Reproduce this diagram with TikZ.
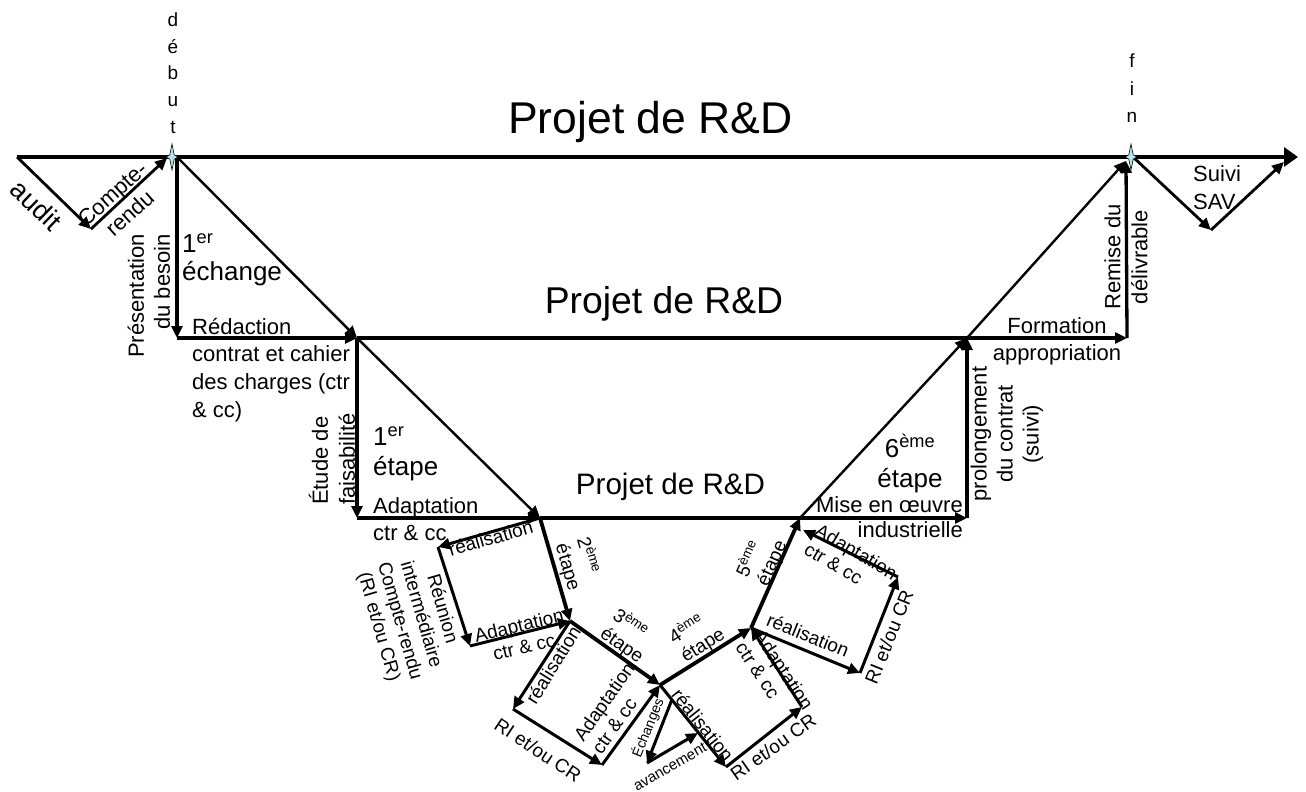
\documentclass[tikz,border=0pt]{standalone}
\usepackage{fontspec}
\setmainfont{Liberation Sans}
\usetikzlibrary{arrows.meta,calc}
\definecolor{starfill}{RGB}{178,228,232}
\newcommand\fsz[2]{\fontsize{#1}{#2}\selectfont}
\tikzset{
  mainln/.style={line width=3.3pt},
  diagln/.style={line width=2.4pt},
  sideln/.style={line width=2.8pt},
  loopln/.style={line width=3pt},
  stepln/.style={line width=3.8pt},
  tip/.style={-{Triangle[length=12pt,width=11pt]}},
  bigtip/.style={-{Triangle[length=14pt,width=19pt]}},
  lbl/.style={inner sep=0pt},
  lf/.style={inner sep=0pt,font=\fsz{19}{22}},
  mf/.style={inner sep=0pt,font=\fsz{22}{27}},
  sparkle/.pic={\filldraw[fill=starfill,draw=black,line width=0.6pt]
    (0,-13) -- (2.2,-2.2) -- (6,0) -- (2.2,2.2) -- (0,13) -- (-2.2,2.2) -- (-6,0) -- (-2.2,-2.2) -- cycle;}
}
\begin{document}
\begin{tikzpicture}[x=1pt,y=-1pt]
\useasboundingbox (0,0) rectangle (1306,792);
\fill[white] (0,0) rectangle (1306,792);
% coordinates
\coordinate (S0) at (17,157);
\coordinate (Deb) at (172,157);
\coordinate (DebV) at (177,157);
\coordinate (DebIn) at (167,158);
\coordinate (Au) at (91,229);
\coordinate (Fin) at (1131,157);
\coordinate (FinIn) at (1126,161);
\coordinate (FinOut) at (1133,157);
\coordinate (TopEnd) at (1298,157);
\coordinate (Sv) at (1211,230);
\coordinate (SvEnd) at (1284,162);
\coordinate (P1) at (177,338);
\coordinate (R1) at (357,338);
\coordinate (R2) at (967,338);
\coordinate (R3) at (1127,338);
\coordinate (Q1) at (357,518);
\coordinate (A) at (540,518);
\coordinate (M) at (800,518);
\coordinate (Q2) at (967,518);
\coordinate (B) at (438,547);
\coordinate (C) at (470,646);
\coordinate (D) at (570,621);
\coordinate (F) at (513,709);
\coordinate (G) at (602,765);
\coordinate (E) at (660,685);
\coordinate (K) at (726,767);
\coordinate (L) at (802,707);
\coordinate (H) at (751,628);
\coordinate (N) at (860,673);
\coordinate (O) at (898,577);
\coordinate (M2) at (803,530);
\coordinate (Ech) at ($(E)!0.18!(K)$);
\coordinate (I) at (647,763);
\coordinate (J) at (698,733);
% main structure
\draw[mainln,bigtip] (S0) -- (TopEnd);
\draw[sideln,tip] (S0) -- (Au);
\draw[sideln,tip] (Au) -- (DebIn);
\draw[mainln,tip] (DebV) -- (P1);
\draw[diagln,tip] (DebV) -- (R1);
\draw[mainln,tip] (P1) -- (R1);
\draw[mainln] (R1) -- (R2);
\draw[mainln,tip] (R1) -- (Q1);
\draw[diagln,tip] (R1) -- (A);
\draw[mainln,tip] (Q1) -- (A);
\draw[mainln] (A) -- (M);
\draw[mainln,tip] (M) -- (Q2);
\draw[mainln,tip] (Q2) -- (R2);
\draw[diagln,tip] (M) -- (R2);
\draw[mainln,tip] (R2) -- (R3);
\draw[mainln,tip] (R3) -- (FinIn);
\draw[diagln,tip] (R2) -- (FinIn);
\draw[sideln,tip] (FinOut) -- (Sv);
\draw[sideln,tip] (Sv) -- (SvEnd);
% loops
\draw[loopln,tip] (A) -- (B);
\draw[loopln,tip] (B) -- (C);
\draw[loopln,tip] (C) -- (D);
\draw[stepln,tip] (A) -- (D);
\draw[loopln,tip] (D) -- (F);
\draw[loopln,tip] (F) -- (G);
\draw[loopln,tip] (G) -- (E);
\draw[stepln,tip] (D) -- (E);
\draw[loopln,tip] (E) -- (K);
\draw[loopln,tip] (K) -- (L);
\draw[loopln,tip] (L) -- (H);
\draw[stepln,tip] (E) -- (H);
\draw[loopln,tip] (Ech) -- (I);
\draw[loopln,tip] (I) -- (J);
\draw[loopln,tip] (H) -- (N);
\draw[loopln,tip] (N) -- (O);
\draw[loopln,tip] (O) -- (M2);
\draw[stepln,tip] (H) -- (M);
% stars
\pic at (Deb) {sparkle};
\pic at (Fin) {sparkle};
% headings
\node[lbl,anchor=base,font=\fsz{44.5}{50}] (t1) at (650.5,133) {Projet de R\&D};
\node[lbl,anchor=base,font=\fsz{37.3}{42}] (t2) at (664,313) {Projet de R\&D};
\node[lbl,anchor=base,font=\fsz{29.6}{34}] (t3) at (670.5,494) {Projet de R\&D};
% top labels
\node[lbl,align=center,font=\fsz{19}{26.6}] (debut) at (173,73) {d\\é\\b\\u\\t};
\node[lbl,align=center,font=\fsz{19}{27.5}] (fin) at (1132,88.5) {f\\i\\n};
\node[lbl,rotate=-44,font=\fsz{27}{30}] (audit) at (36.7,205) {audit};
\node[lbl,rotate=42,align=center,font=\fsz{22}{26}] (cr) at (121,203.5) {Compte-\\rendu};
\node[lbl,rotate=90,align=right,anchor=east,font=\fsz{22}{26}] (pres) at (149,234) {Présentation\\du besoin};
\node[lbl,align=left,anchor=west,font=\fsz{26}{28}] (ech1) at (182,259.5) {1\textsuperscript{er}\\échange};
\node[lbl,align=left,anchor=west,font=\fsz{22}{27.7}] (redac) at (192,370) {Rédaction\\contrat et cahier\\des charges (ctr\\\& cc)};
\node[lbl,rotate=90,align=left,anchor=west,font=\fsz{22}{27}] (etude) at (332,505) {Étude de\\faisabilité};
\node[lbl,align=left,anchor=west,font=\fsz{26}{30}] (et1) at (373,453.5) {1\textsuperscript{er}\\étape};
\node[lbl,align=left,anchor=west,font=\fsz{22}{27.7}] (adapt0) at (373,519) {Adaptation\\ctr \& cc};
\node[lbl,align=center,font=\fsz{26}{30}] (et6) at (910,463.5) {6\textsuperscript{ème}\\étape};
\node[lbl,align=right,anchor=east,font=\fsz{22}{25}] (mise) at (963,517.6) {Mise en œuvre\\industrielle};
\node[lbl,rotate=90,align=center,font=\fsz{22}{26}] (prol) at (1007,434) {prolongement\\du contrat\\(suivi)};
\node[lbl,align=center,font=\fsz{22}{27}] (form) at (1057,341) {Formation\\appropriation};
\node[lbl,rotate=90,align=center,font=\fsz{22}{27}] (remise) at (1126,257) {Remise du\\délivrable};
\node[lbl,align=left,anchor=west,font=\fsz{22}{28}] (sav) at (1193,188) {Suivi\\SAV};
% loop 1
\node[lf,rotate=16] (rea1) at (490.7,538) {réalisation};
\node[lf,rotate=-74,align=center] (reun) at (410,618) {Réunion\\intermédiaire\\Compte-rendu\\(RI et/ou CR)};
\node[lf,rotate=13.5,align=center] (ad1) at (521.5,636) {Adaptation\\ctr \& cc};
\node[lf,rotate=-74,align=left] (et2) at (578.6,564) {2\textsuperscript{ème}\\étape};
% loop 2
\node[lf,rotate=58] (rea2) at (553,665) {réalisation};
\node[lf,rotate=-33.7] (ri2) at (538,750) {RI et/ou CR};
\node[lf,rotate=55,align=left] (ad2) at (613,708) {Adaptation\\ctr \& cc};
\node[lf,rotate=-35,align=left] (et3) at (628.3,636) {3\textsuperscript{ème}\\étape};
% loop 3
\node[lf,rotate=-51.6] (rea3) at (703,725) {réalisation};
\node[lf,rotate=35] (ri3) at (773,747) {RI et/ou CR};
\node[lf,rotate=-56.6,align=left] (ad3) at (774.8,676) {Adaptation\\ctr \& cc};
\node[lf,rotate=32,align=left] (et4) at (697,635.6) {4\textsuperscript{ème}\\étape};
\node[lbl,rotate=68,font=\fsz{14}{16}] (echg) at (648,728) {Échanges};
\node[lbl,rotate=30,font=\fsz{15}{17}] (avan) at (670,767) {avancement};
% loop 4
\node[lf,rotate=-22] (rea4) at (808,635) {réalisation};
\node[lf,rotate=68] (ri4) at (889,637) {RI et/ou CR};
\node[lf,rotate=-30.4,align=left] (ad4) at (851,561) {Adaptation\\ctr \& cc};
\node[lf,rotate=66,align=left] (et5) at (761.6,558.5) {5\textsuperscript{ème}\\étape};
\end{tikzpicture}
\end{document}
